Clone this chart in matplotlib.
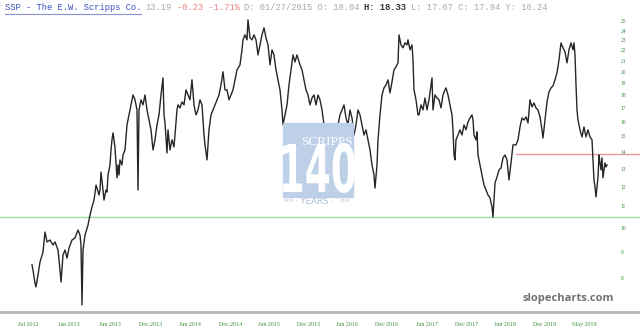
import matplotlib
matplotlib.use('Agg')
import matplotlib.pyplot as plt
from matplotlib.patches import Rectangle, PathPatch
from matplotlib.textpath import TextPath
from matplotlib.font_manager import FontProperties
from matplotlib.transforms import Affine2D, IdentityTransform

# trading session number (since first bar) and closing price
session = [0, 3, 9, 12, 18, 24, 33, 39, 45, 54, 63, 69, 78, 84, 87, 93, 99, 105, 111, 120,
           129, 138, 144, 147, 150, 153, 159, 168, 174, 180, 186, 189, 192, 195, 201, 204, 207, 213, 216, 222,
           225, 228, 234, 237, 240, 243, 246, 249, 255, 258, 261, 264, 270, 273, 279, 285, 291, 297, 303, 309,
           315, 318, 321, 327, 333, 339, 345, 351, 357, 363, 369, 375, 381, 387, 393, 396, 399, 405, 408, 414,
           420, 426, 429, 435, 438, 444, 450, 456, 462, 468, 474, 480, 486, 492, 498, 504, 510, 516, 519, 525,
           531, 537, 543, 549, 555, 561, 567, 573, 579, 585, 591, 597, 603, 609, 615, 624, 630, 633, 639, 645,
           648, 654, 660, 666, 672, 678, 684, 690, 696, 702, 708, 714, 720, 726, 732, 738, 744, 750, 753, 759,
           765, 771, 777, 783, 789, 795, 804, 810, 816, 822, 828, 834, 840, 846, 852, 858, 864, 870, 876, 882,
           888, 894, 900, 906, 912, 918, 924, 930, 936, 942, 948, 954, 960, 966, 972, 978, 984, 990, 996, 1002,
           1008, 1014, 1020, 1026, 1029, 1035, 1038, 1044, 1050, 1056, 1062, 1068, 1074, 1080, 1086, 1092, 1098, 1101, 1107, 1113,
           1119, 1125, 1128, 1134, 1140, 1143, 1146, 1152, 1158, 1161, 1167, 1173, 1179, 1185, 1191, 1197, 1200, 1203, 1209, 1215,
           1221, 1227, 1233, 1239, 1242, 1248, 1254, 1260, 1263, 1266, 1269, 1272, 1278, 1284, 1290, 1296, 1302, 1308, 1314, 1320,
           1323, 1326, 1332, 1335, 1338, 1344, 1350, 1356, 1362, 1368, 1374, 1380, 1383, 1389, 1395, 1401, 1407, 1413, 1419, 1425,
           1431, 1437, 1443, 1452, 1458, 1464, 1470, 1476, 1482, 1488, 1494, 1500, 1506, 1512, 1518, 1524, 1530, 1533, 1539, 1545,
           1551, 1557, 1563, 1569, 1575, 1581, 1587, 1593, 1599, 1605, 1611, 1617, 1623, 1626, 1629, 1632, 1635, 1638, 1644, 1650,
           1656, 1662, 1668, 1674, 1680, 1683, 1686, 1689, 1692, 1695, 1698, 1701, 1704, 1707, 1710, 1713, 1716, 1719, 1722, 1725]

close = [8.48, 8.29, 7.82, 7.69, 8.11, 8.59, 8.98, 9.81, 9.39, 9.47, 9.26, 9.39, 9.06, 8.29, 7.86, 8.86, 9.06, 8.74, 9.14, 9.47,
         9.56, 9.90, 9.68, 9.26, 7.10, 9.06, 9.68, 10.12, 10.58, 10.97, 11.31, 11.67, 12.09, 11.93, 11.57, 11.83, 12.81, 11.83, 11.31, 11.83,
         11.72, 12.64, 13.22, 14.13, 14.78, 15.24, 14.78, 14.26, 12.48, 13.22, 12.64, 13.52, 13.22, 13.82, 14.13, 15.79, 16.51, 17.26, 18.04, 17.65,
         16.88, 11.83, 16.88, 17.65, 17.26, 18.04, 16.88, 16.14, 15.45, 14.13, 14.78, 15.79, 16.51, 18.04, 19.46, 16.51, 15.93, 13.94, 15.45, 14.13,
         14.78, 14.32, 15.10, 16.88, 17.26, 17.03, 17.49, 17.26, 18.45, 18.04, 17.65, 19.29, 17.26, 16.51, 16.88, 17.65, 17.26, 15.10, 14.45, 13.52,
         15.45, 16.51, 16.88, 17.26, 17.65, 18.04, 18.86, 19.99, 18.45, 18.45, 17.65, 18.04, 18.45, 19.29, 20.16, 20.62, 22.04, 23.04, 23.56, 23.04,
         25.18, 23.25, 23.04, 23.56, 23.04, 21.55, 22.53, 23.56, 24.30, 23.25, 22.53, 20.62, 22.04, 21.55, 20.16, 19.29, 18.45, 16.88, 15.79, 16.51,
         17.26, 18.86, 20.16, 21.55, 20.89, 21.55, 20.62, 20.16, 19.29, 18.45, 18.04, 17.26, 17.80, 18.04, 17.26, 18.04, 17.65, 16.88, 15.79, 15.45,
         14.78, 14.45, 15.10, 14.45, 15.45, 15.79, 16.51, 16.88, 17.26, 16.29, 15.79, 16.88, 16.29, 15.10, 15.79, 16.88, 16.51, 15.79, 15.10, 15.45,
         14.78, 14.13, 13.22, 12.64, 11.93, 13.22, 14.78, 16.51, 18.04, 18.61, 18.86, 19.29, 18.20, 19.12, 20.16, 20.44, 20.80, 23.56, 22.53, 22.24,
         22.73, 22.53, 23.04, 22.04, 22.53, 21.08, 18.45, 17.65, 16.51, 16.51, 17.26, 16.88, 17.80, 16.88, 17.65, 18.86, 19.46, 16.88, 18.04, 17.80,
         17.65, 17.03, 18.04, 18.45, 18.61, 18.04, 17.26, 16.51, 15.45, 13.82, 13.52, 14.78, 15.10, 15.45, 15.10, 15.79, 15.45, 16.00, 16.29, 16.51,
         16.14, 15.10, 14.78, 15.31, 13.82, 13.22, 12.64, 12.09, 11.83, 11.57, 11.42, 10.97, 10.49, 12.20, 12.53, 12.93, 13.04, 13.64, 13.82, 13.52,
         12.37, 13.34, 14.45, 14.45, 14.78, 15.65, 16.29, 16.14, 16.36, 15.93, 17.65, 17.11, 17.41, 17.03, 16.88, 16.36, 15.45, 14.90, 16.14, 17.49,
         18.29, 18.61, 18.78, 19.29, 19.90, 21.08, 22.73, 22.24, 21.84, 20.80, 22.04, 22.73, 22.04, 22.73, 21.55, 18.86, 16.88, 16.14, 15.45, 14.97,
         15.65, 14.97, 15.45, 14.97, 14.78, 13.52, 12.37, 11.99, 11.47, 11.99, 12.53, 13.82, 13.34, 12.93, 13.64, 12.48, 12.93, 13.34, 13.10, 13.22]

tick_pos = [-12, 111, 234, 357, 474, 597, 711, 831, 945, 1065, 1185, 1305, 1419, 1539, 1656]
tick_labels = ['Jul 2012', 'Jan 2013', 'Jun 2013', 'Dec 2013', 'Jun 2014', 'Dec 2014', 'Jun 2015',
               'Dec 2015', 'Jun 2016', 'Dec 2016', 'Jun 2017', 'Dec 2017', 'Jun 2018', 'Dec 2018', 'May 2019']
price_ticks = list(range(8, 26))

support = 10.5
resistance = 13.9
resistance_start = 1452

fig = plt.figure(figsize=(6.4, 3.33), dpi=100)
ax = fig.add_axes([0, 21 / 333, 1, 312 / 333])

ax.axhline(support, color='#9de09d', lw=1.0, zorder=1)
ax.plot([resistance_start, 1824], [resistance, resistance], color='#e89a9a', lw=1.0, zorder=1)
ax.plot(session, close, color='#262626', lw=1.0, zorder=3)

ax.set_yscale('log')
ax.set_ylim(6.88, 27.5)
ax.set_xlim(-96, 1824)

ax.yaxis.tick_right()
ax.set_yticks(price_ticks)
ax.set_yticklabels([str(p) for p in price_ticks])
ax.yaxis.set_minor_locator(matplotlib.ticker.NullLocator())
ax.tick_params(axis='y', length=0, pad=-14, labelsize=4, labelcolor='#3d8f3d')
for lab in ax.get_yticklabels():
    lab.set_fontfamily('Liberation Serif')

ax.set_xticks(tick_pos)
ax.set_xticklabels(tick_labels)
ax.tick_params(axis='x', length=0, pad=7, labelsize=4.3, labelcolor='#3d8f3d')
for lab in ax.get_xticklabels():
    lab.set_fontfamily('Liberation Serif')

for s in ['top', 'left', 'right']:
    ax.spines[s].set_visible(False)
ax.spines['bottom'].set_color('#b4b4b4')
ax.spines['bottom'].set_linewidth(2)

# watermark logo (pixel coordinates, origin bottom-left)
H = 333
fig.patches.append(Rectangle((283, H - 197), 70, 74, transform=IdentityTransform(),
                             color='#bdd0e8', zorder=0))
fig.text(327 / 640, 1 - 142 / H, 'SCRIPPS', color='white', fontsize=9.5,
         family='Liberation Serif', ha='center', va='center', zorder=1)
tp = TextPath((0, 0), '140', size=1, prop=FontProperties(family='DejaVu Sans', weight='bold'))
ext = tp.get_extents()
sx = 72 / ext.width
sy = 50 / ext.height
tr = Affine2D().translate(-ext.x0, -ext.y0).scale(sx, sy).translate(283, H - 193)
fig.patches.append(PathPatch(tp, transform=tr + IdentityTransform(), color='white', lw=0, zorder=1))
fig.text(314 / 640, 1 - 201 / H, '· YEARS ·', color='#a9bdd8', fontsize=6.2,
         family='DejaVu Sans', ha='center', va='center', zorder=1)
fig.text(289 / 640, 1 - 201 / H, '1878', color='#a9bdd8', fontsize=3,
         family='DejaVu Sans', ha='center', va='center', zorder=1)
fig.text(345 / 640, 1 - 201 / H, '2018', color='#a9bdd8', fontsize=3,
         family='DejaVu Sans', ha='center', va='center', zorder=1)

fig.text(568 / 640, 1 - 298 / H, 'slopecharts.com', color='#707070', fontsize=8,
         weight='bold', family='Open Sans', ha='center', va='center')

# header line
cw = 5.2
hy = 1 - 8 / H
parts = [(0, 'SSP - The E.W. Scripps Co.', '#3d4fbf', 'normal'),
         (27, '13.19', '#a8a8a8', 'normal'),
         (33, '-0.23 -1.71%', '#ee8080', 'normal'),
         (46, 'D: 01/27/2015 O: 18.04', '#a8a8a8', 'normal'),
         (69, 'H: 18.33', '#333333', 'bold'),
         (78, 'L: 17.67 C: 17.94 Y: 16.24', '#a8a8a8', 'normal')]
for col, txt, c, w in parts:
    fig.text((5 + col * cw) / 640, hy, txt, color=c, fontsize=6.3, weight=w,
             family='Liberation Mono', ha='left', va='center')
fig.add_artist(plt.Line2D([5 / 640, 141 / 640], [1 - 14 / H, 1 - 14 / H],
                          transform=fig.transFigure, color='#8890d0', lw=0.8))

fig.savefig('out.png', dpi=100)
